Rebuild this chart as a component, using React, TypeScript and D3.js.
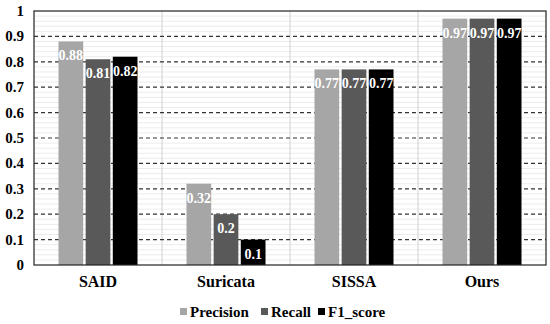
import React, { useEffect, useRef } from "react";
import * as d3 from "d3";

const categories = ["SAID", "Suricata", "SISSA", "Ours"];
const seriesNames = ["Precision", "Recall", "F1_score"];
const precision = [0.88, 0.32, 0.77, 0.97];
const recall = [0.81, 0.2, 0.77, 0.97];
const f1 = [0.82, 0.1, 0.77, 0.97];
const yTicks = [0, 0.1, 0.2, 0.3, 0.4, 0.5, 0.6, 0.7, 0.8, 0.9, 1];
const colors = ["#a6a6a6", "#595959", "#000000"];

const W = 550;
const H = 324;
const font = "Liberation Serif, serif";

const App = () => {
  const ref = useRef(null);

  useEffect(() => {
    const svg = d3.select(ref.current);
    svg.selectAll("*").remove();

    const left = 34, right = 546, top = 11, bottom = 265;
    const x = d3.scaleBand().domain(categories).range([left, right]);
    const y = d3.scaleLinear().domain([0, 1]).range([bottom, top]);
    const inner = d3.scaleBand().domain(seriesNames).range([0, 79]).paddingInner(0.09);
    const series = [precision, recall, f1];

    // minor gridlines
    const minor = d3.range(0.02, 1, 0.02).filter(v => Math.abs(v * 10 - Math.round(v * 10)) > 0.01);
    svg.append("g").selectAll("line").data(minor).enter().append("line")
      .attr("x1", left).attr("x2", right)
      .attr("y1", d => y(d)).attr("y2", d => y(d))
      .attr("stroke", "#ececec").attr("stroke-width", 1);

    // vertical separators
    svg.append("g").selectAll("line").data(categories.slice(1)).enter().append("line")
      .attr("x1", d => x(d)).attr("x2", d => x(d))
      .attr("y1", top).attr("y2", bottom)
      .attr("stroke", "#d0d0d0").attr("stroke-width", 1);

    // major dashed gridlines
    svg.append("g").selectAll("line").data(yTicks.slice(1, -1)).enter().append("line")
      .attr("x1", left).attr("x2", right)
      .attr("y1", d => y(d)).attr("y2", d => y(d))
      .attr("stroke", "#333").attr("stroke-width", 1.2)
      .attr("stroke-dasharray", "4,3");

    // bars
    series.forEach((vals, si) => {
      const g = svg.append("g");
      g.selectAll("rect").data(vals).enter().append("rect")
        .attr("x", (d, i) => x(categories[i]) + x.bandwidth() / 2 - 39.5 + inner(seriesNames[si]))
        .attr("width", inner.bandwidth())
        .attr("y", d => y(d))
        .attr("height", d => bottom - y(d))
        .attr("fill", colors[si]);
      g.selectAll("text").data(vals).enter().append("text")
        .attr("x", (d, i) => x(categories[i]) + x.bandwidth() / 2 - 39.5 + inner(seriesNames[si]) + inner.bandwidth() / 2)
        .attr("y", d => y(d) + 19)
        .attr("text-anchor", "middle")
        .attr("fill", "#fff")
        .attr("font-weight", "bold")
        .attr("font-size", 14)
        .text(d => String(d));
    });

    // frame
    svg.append("rect")
      .attr("x", left).attr("y", top)
      .attr("width", right - left).attr("height", bottom - top)
      .attr("fill", "none").attr("stroke", "#222").attr("stroke-width", 1.2);

    // y labels
    svg.append("g").selectAll("text").data(yTicks).enter().append("text")
      .attr("x", 24).attr("y", d => y(d) + 5)
      .attr("text-anchor", "end")
      .attr("font-weight", "bold").attr("font-size", 15)
      .attr("fill", "#000")
      .text(d => String(d));

    // x labels
    svg.append("g").selectAll("text").data(categories).enter().append("text")
      .attr("x", d => x(d) + x.bandwidth() / 2).attr("y", 287)
      .attr("text-anchor", "middle")
      .attr("font-weight", "bold").attr("font-size", 16)
      .attr("fill", "#000")
      .text(d => d);

    // legend
    const legendX = [180, 261, 318];
    const lg = svg.append("g");
    seriesNames.forEach((name, i) => {
      lg.append("rect").attr("x", legendX[i]).attr("y", 308).attr("width", 7).attr("height", 7).attr("fill", colors[i]);
      lg.append("text").attr("x", legendX[i] + 10).attr("y", 317)
        .attr("font-weight", "bold").attr("font-size", 15)
        .attr("fill", "#000").text(name);
    });
  }, []);

  return (
    <svg ref={ref} width={W} height={H}
      style={{ position: "absolute", left: 0, top: 0, background: "#fff", fontFamily: font }} />
  );
};

export default App;
